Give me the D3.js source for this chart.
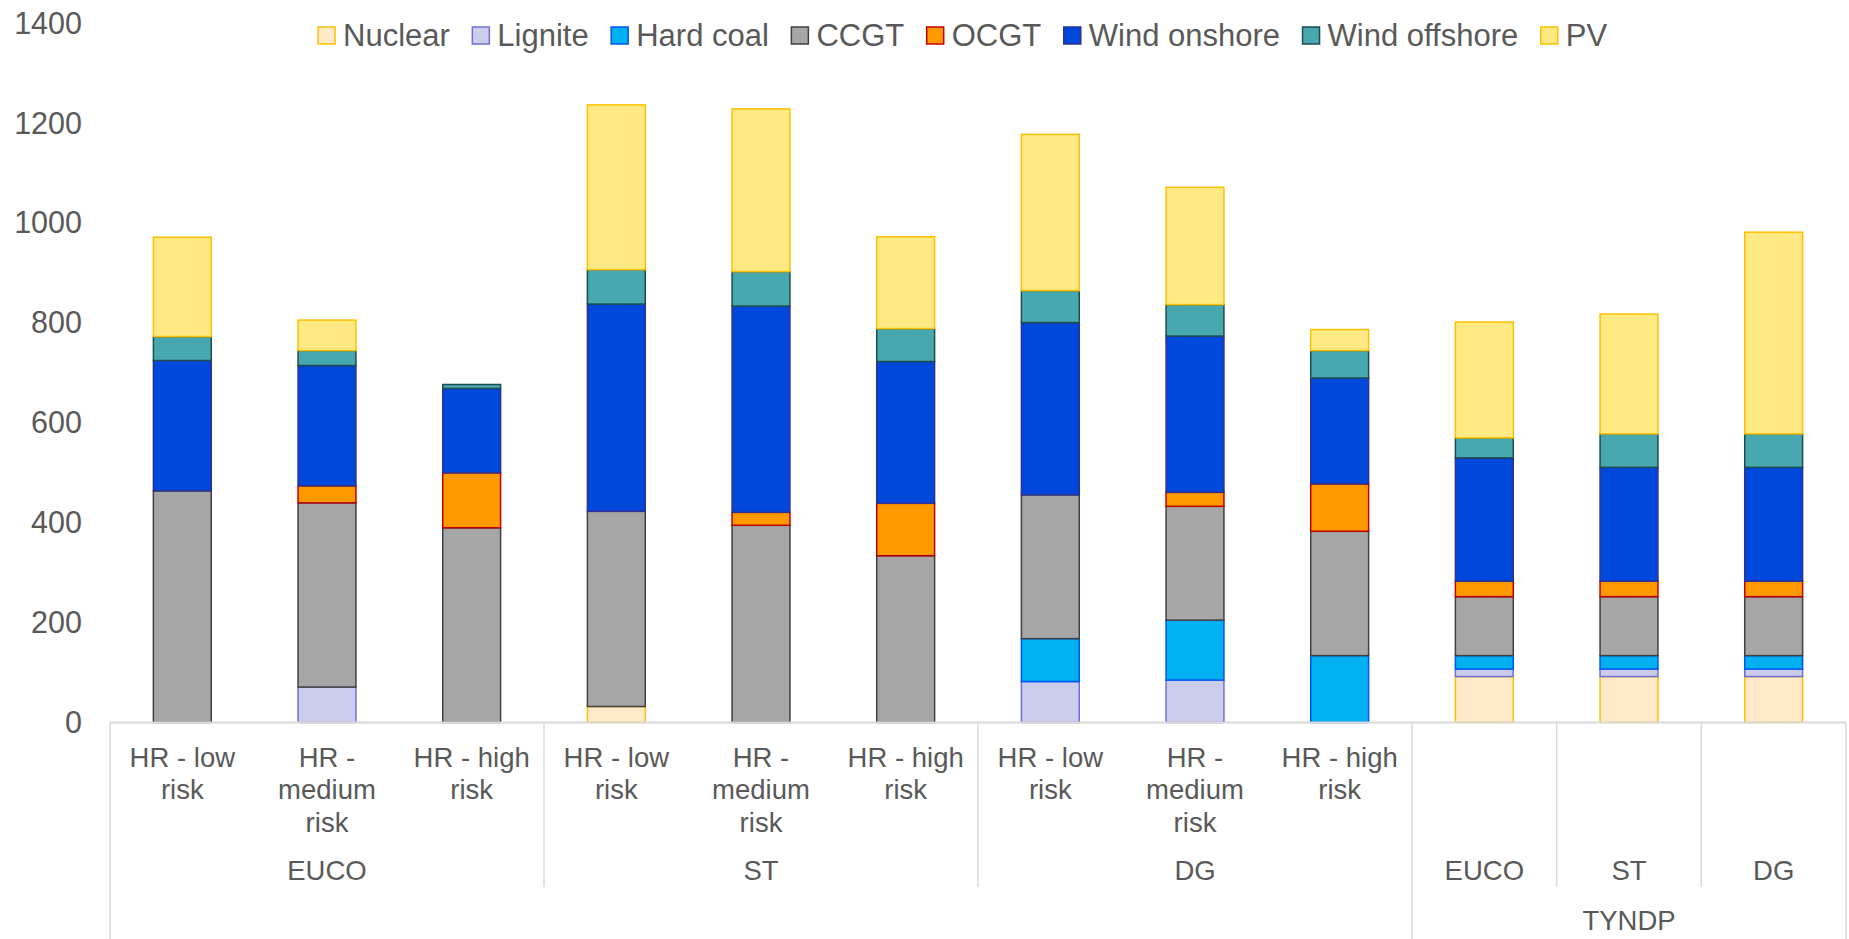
<!DOCTYPE html>
<html>
<head>
<meta charset="utf-8">
<script src="https://cdn.jsdelivr.net/npm/d3@7/dist/d3.min.js"></script>
<style>
  html, body { margin: 0; padding: 0; background: #fff; }
  svg { display: block; font-family: "Liberation Sans", Arial, sans-serif; }
</style>
</head>
<body>
<svg id="chart" width="1849" height="939"></svg>
<script>
// ---- Data ----
const scenarios = ["HR - low risk", "HR - medium risk", "HR - high risk",
                   "HR - low risk", "HR - medium risk", "HR - high risk",
                   "HR - low risk", "HR - medium risk", "HR - high risk",
                   "", "", ""];
const groups  = ["EUCO", "EUCO", "EUCO", "ST", "ST", "ST", "DG", "DG", "DG", "EUCO", "ST", "DG"];
const sources = ["", "", "", "", "", "", "", "", "", "TYNDP", "TYNDP", "TYNDP"];

const seriesNames = ["Nuclear", "Lignite", "Hard coal", "CCGT", "OCGT", "Wind onshore", "Wind offshore", "PV"];

const nuclear      = [0,   0,   0,   32,  0,   0,   0,   0,   0,   92,  92,  92];
const lignite      = [0,   71,  0,   0,   0,   0,   82,  85,  0,   15,  15,  15];
const hardCoal     = [0,   0,   0,   0,   0,   0,   86,  120, 134, 27,  27,  27];
const ccgt         = [464, 369, 390, 391, 395, 334, 288, 228, 249, 118, 118, 118];
const ocgt         = [0,   34,  110, 0,   26,  105, 0,   28,  95,  31,  31,  31];
const windOnshore  = [261, 241, 169, 415, 413, 284, 345, 313, 212, 247, 228, 228];
const windOffshore = [48,  30,  8,   69,  69,  66,  64,  63,  55,  40,  67,  67];
const pv           = [199, 61,  0,   330, 326, 184, 313, 235, 42,  232, 240, 404];

const yTicks = [0, 200, 400, 600, 800, 1000, 1200, 1400];

// ---- Styles ----
const fillColors   = ["#FFE9C9", "#CCCCEC", "#00B0F0", "#A6A6A6", "#FF9900", "#0047DB", "#47A8B0", "#FFE982"];
const strokeColors = ["#FFC000", "#6F6FD8", "#0055F5", "#404040", "#C00000", "#2E3192", "#1E4D50", "#FFC000"];
const textColor = "#595959";
const axisColor = "#D9D9D9";

// ---- Build table ----
const seriesValues = [nuclear, lignite, hardCoal, ccgt, ocgt, windOnshore, windOffshore, pv];
const rows = scenarios.map((s, i) => {
  const r = { idx: i, scenario: s, group: groups[i], source: sources[i] };
  seriesNames.forEach((name, k) => { r[name] = seriesValues[k][i]; });
  return r;
});

const svg = d3.select("#chart");
const W = 1849, H = 939;
const plot = { left: 110, right: 1846, top: 23.5, bottom: 722.5 };

const x = d3.scaleBand()
  .domain(rows.map(r => r.idx))
  .range([plot.left, plot.right])
  .paddingInner(0.6)
  .paddingOuter(0.3);

const y = d3.scaleLinear()
  .domain([0, 1400])
  .range([plot.bottom, plot.top]);

const color = d3.scaleOrdinal().domain(seriesNames).range(fillColors);
const stroke = d3.scaleOrdinal().domain(seriesNames).range(strokeColors);

// ---- Y axis (labels only) ----
const yAxis = d3.axisLeft(y).tickValues(yTicks).tickFormat(d3.format("d")).tickSize(0).tickPadding(28);
const gy = svg.append("g").attr("transform", `translate(${plot.left},0)`).call(yAxis);
gy.select(".domain").remove();
gy.selectAll("text")
  .attr("fill", textColor)
  .style("font-size", "30.5px")
  .style("font-family", "\"Liberation Sans\", Arial, sans-serif");

// ---- Stacked bars ----
const stacked = d3.stack().keys(seriesNames)(rows);

const layers = svg.append("g").selectAll("g")
  .data(stacked)
  .join("g")
  .attr("fill", d => color(d.key))
  .attr("stroke", d => stroke(d.key))
  .attr("stroke-width", 1.5);

layers.selectAll("rect")
  .data(d => d.filter(p => p[1] - p[0] > 0))
  .join("rect")
  .attr("x", p => x(p.data.idx))
  .attr("width", x.bandwidth())
  .attr("y", p => y(p[1]))
  .attr("height", p => y(p[0]) - y(p[1]));

// ---- Multi-level category axis ----
const axisG = svg.append("g");
const step = x.step();
const bandStart = i => x(i) - (step - x.bandwidth()) / 2;

axisG.append("line")
  .attr("x1", plot.left).attr("x2", plot.right)
  .attr("y1", plot.bottom).attr("y2", plot.bottom)
  .attr("stroke", axisColor).attr("stroke-width", 2);

const level2Bottom = 887;
const boundaries = [];
for (let i = 0; i <= rows.length; i++) {
  const xb = i < rows.length ? bandStart(i) : bandStart(rows.length - 1) + step;
  let depth = null;
  if (i === 0 || i === rows.length) depth = H;
  else if (sources[i] !== sources[i - 1]) depth = H;
  else if (groups[i] !== groups[i - 1]) depth = level2Bottom;
  if (depth !== null) boundaries.push({ x: xb, y2: depth });
}
axisG.selectAll("line.sep")
  .data(boundaries)
  .join("line")
  .attr("class", "sep")
  .attr("x1", d => d.x).attr("x2", d => d.x)
  .attr("y1", plot.bottom).attr("y2", d => d.y2)
  .attr("stroke", axisColor).attr("stroke-width", 1.5);

// Level 1 labels (wrapped)
const catFont = 27.5;
const lineH = 32.5;
const wrapWidth = 130;
const measure = svg.append("text").style("font-size", catFont + "px").attr("visibility", "hidden");
function wrap(label) {
  const words = label.split(" ");
  const lines = [];
  let cur = "";
  words.forEach(w => {
    const test = cur ? cur + " " + w : w;
    measure.text(test);
    if (measure.node().getComputedTextLength() > wrapWidth && cur) {
      lines.push(cur);
      cur = w;
    } else {
      cur = test;
    }
  });
  if (cur) lines.push(cur);
  return lines;
}

rows.forEach(r => {
  if (!r.scenario) return;
  const lines = wrap(r.scenario);
  const t = axisG.append("text")
    .attr("text-anchor", "middle")
    .attr("fill", textColor)
    .style("font-size", catFont + "px");
  lines.forEach((ln, j) => {
    t.append("tspan")
      .attr("x", x(r.idx) + x.bandwidth() / 2)
      .attr("y", 766.5 + j * lineH)
      .text(ln);
  });
});
measure.remove();

// Level 2 and level 3 labels: centred over their runs of categories
function runs(keyFn) {
  const out = [];
  rows.forEach((r, i) => {
    const k = keyFn(r);
    const last = out[out.length - 1];
    if (last && last.key === k && last.end === i - 1) last.end = i;
    else out.push({ key: k, start: i, end: i });
  });
  return out.filter(d => d.key);
}
const level2 = runs(r => r.source + "|" + r.group).map(d => ({ ...d, label: d.key.split("|")[1] }));
const level3 = runs(r => r.source).map(d => ({ ...d, label: d.key }));

axisG.selectAll("text.l2")
  .data(level2)
  .join("text")
  .attr("class", "l2")
  .attr("text-anchor", "middle")
  .attr("fill", textColor)
  .style("font-size", catFont + "px")
  .attr("x", d => (bandStart(d.start) + bandStart(d.end) + step) / 2)
  .attr("y", 880)
  .text(d => d.label);

axisG.selectAll("text.l3")
  .data(level3)
  .join("text")
  .attr("class", "l3")
  .attr("text-anchor", "middle")
  .attr("fill", textColor)
  .style("font-size", catFont + "px")
  .attr("x", d => (bandStart(d.start) + bandStart(d.end) + step) / 2)
  .attr("y", 929.5)
  .text(d => d.label);

// ---- Legend ----
const legend = svg.append("g");
let lx = 318;
const legendY = 35.5;
const sw = 17;
seriesNames.forEach((name, k) => {
  const item = legend.append("g");
  item.append("rect")
    .attr("x", lx).attr("y", legendY - sw / 2)
    .attr("width", sw).attr("height", sw)
    .attr("fill", color(name))
    .attr("stroke", stroke(name))
    .attr("stroke-width", 1.5);
  const t = item.append("text")
    .attr("x", lx + 25)
    .attr("y", legendY)
    .attr("dy", "0.35em")
    .attr("fill", textColor)
    .style("font-size", "31px")
    .text(name);
  lx = lx + 25 + t.node().getComputedTextLength() + 22.5;
});
</script>
</body>
</html>
